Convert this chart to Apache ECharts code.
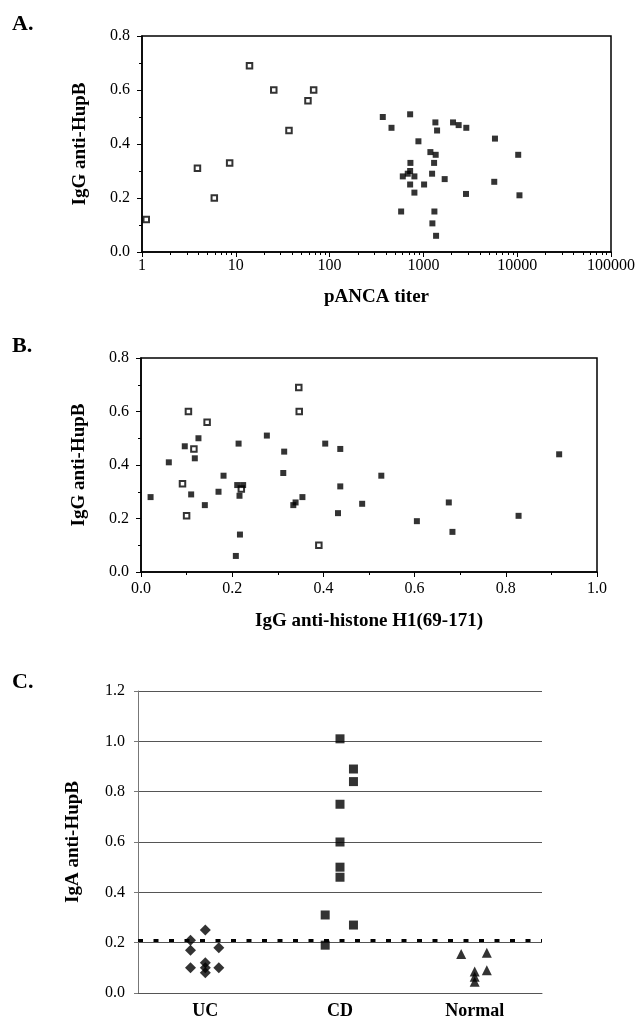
<!DOCTYPE html>
<html><head><meta charset="utf-8">
<script src="https://cdn.jsdelivr.net/npm/echarts@6/dist/echarts.min.js"></script>
<style>html,body{margin:0;padding:0;background:#fff}#c{width:638px;height:1020px}</style>
</head><body><div id="c"></div>
<script>
// ---- Panel A: IgG anti-HupB vs pANCA titer ----
const aUcTiter = [1.11, 3.9, 5.9, 8.6, 14.0, 25.4, 36.9, 58.8, 67.6];
const aUcHupB  = [0.12, 0.31, 0.20, 0.33, 0.69, 0.60, 0.45, 0.56, 0.60];
const aCdTiter = [369, 457, 722, 1342, 1399, 2070, 2376, 2867, 5794, 10250, 885, 1187, 1352, 727, 1300, 722, 681, 603, 802, 1238, 1686, 5693, 722, 1017, 802, 2844, 10570, 579, 1310, 1247, 1365];
const aCdHupB  = [0.50, 0.46, 0.51, 0.48, 0.45, 0.48, 0.47, 0.46, 0.42, 0.36, 0.41, 0.37, 0.36, 0.33, 0.33, 0.30, 0.29, 0.28, 0.28, 0.29, 0.27, 0.26, 0.25, 0.25, 0.22, 0.215, 0.21, 0.15, 0.15, 0.106, 0.06];

// ---- Panel B: IgG anti-HupB vs IgG anti-histone H1(69-171) ----
const bUcH1   = [0.346, 0.347, 0.104, 0.145, 0.116, 0.091, 0.220, 0.100, 0.390];
const bUcHupB = [0.69, 0.60, 0.60, 0.56, 0.46, 0.33, 0.31, 0.21, 0.10];
const bCdH1   = [0.126, 0.276, 0.096, 0.214, 0.314, 0.404, 0.437, 0.118, 0.061, 0.181, 0.312, 0.211, 0.224, 0.437, 0.110, 0.170, 0.216, 0.021, 0.354, 0.339, 0.334, 0.140, 0.485, 0.432, 0.217, 0.208, 0.917, 0.527, 0.675, 0.605, 0.683, 0.828];
const bCdHupB = [0.50, 0.51, 0.47, 0.48, 0.45, 0.48, 0.46, 0.425, 0.41, 0.36, 0.37, 0.325, 0.325, 0.32, 0.29, 0.30, 0.285, 0.28, 0.28, 0.26, 0.25, 0.25, 0.255, 0.22, 0.14, 0.06, 0.44, 0.36, 0.26, 0.19, 0.15, 0.21];

// ---- Panel C: IgA anti-HupB by group ----
const cCategories = ['UC', 'CD', 'Normal'];
const cUcPos  = [0.89, 0.89, 0.89, 1.0, 1.0, 1.0, 1.0, 1.1, 1.1];
const cUcIgA  = [0.21, 0.17, 0.10, 0.25, 0.12, 0.10, 0.08, 0.18, 0.10];
const cCdPos  = [2.0, 2.1, 2.1, 2.0, 2.0, 2.0, 2.0, 1.89, 2.1, 1.89];
const cCdIgA  = [1.01, 0.89, 0.84, 0.75, 0.60, 0.50, 0.46, 0.31, 0.27, 0.19];
const cNorPos = [2.9, 3.09, 3.09, 3.0, 3.0, 3.0];
const cNorIgA = [0.155, 0.16, 0.09, 0.085, 0.065, 0.045];
const cCutoff = 0.215;

const SERIF = "'Liberation Serif','DejaVu Serif',serif";
const zip = (xs, ys) => xs.map((x, i) => [x, ys[i]]);
const lbl = {fontFamily: SERIF, fontSize: 16, color: '#000'};
const ttl = {fontFamily: SERIF, fontSize: 19, fontWeight: 'bold', color: '#000'};
const blackLine = {lineStyle: {color: '#000', width: 1.5}};
const openSq = {color: '#fff', borderColor: '#000', borderWidth: 2};

const chart = echarts.init(document.getElementById('c'));
chart.setOption({
  animation: false,
  backgroundColor: '#fff',
  title: [
    {text: 'A.', left: 12, top: 13, padding: 0, textStyle: {fontFamily: SERIF, fontSize: 22, fontWeight: 'bold', color: '#000'}},
    {text: 'B.', left: 12, top: 335, padding: 0, textStyle: {fontFamily: SERIF, fontSize: 22, fontWeight: 'bold', color: '#000'}},
    {text: 'C.', left: 12, top: 671, padding: 0, textStyle: {fontFamily: SERIF, fontSize: 22, fontWeight: 'bold', color: '#000'}}
  ],
  grid: [
    {left: 142, top: 36, width: 470, height: 216, show: true, borderColor: '#000', borderWidth: 1.5, backgroundColor: 'transparent'},
    {left: 141, top: 358, width: 456, height: 214, show: true, borderColor: '#000', borderWidth: 1.5, backgroundColor: 'transparent'},
    {left: 138, top: 691, width: 404, height: 302}
  ],
  xAxis: [
    {gridIndex: 0, type: 'log', logBase: 10, min: 1, max: 100000,
     axisLine: blackLine, axisTick: {show: true, length: 5, lineStyle: {color: '#000'}},
     minorTick: {show: true, splitNumber: 9, length: 3, lineStyle: {color: '#000'}},
     axisLabel: {...lbl, margin: 6, formatter: v => String(Math.round(v))},
     splitLine: {show: false},
     name: 'pANCA titer', nameLocation: 'middle', nameGap: 36, nameTextStyle: ttl},
    {gridIndex: 1, type: 'value', min: 0, max: 1, interval: 0.2,
     axisLine: blackLine, axisTick: {show: true, length: 5, lineStyle: {color: '#000'}},
     minorTick: {show: true, splitNumber: 2, length: 3, lineStyle: {color: '#000'}},
     axisLabel: {...lbl, margin: 9, formatter: v => v.toFixed(1)},
     splitLine: {show: false},
     name: 'IgG anti-histone H1(69-171)', nameLocation: 'middle', nameGap: 40, nameTextStyle: ttl},
    {gridIndex: 2, type: 'category', data: cCategories,
     axisLine: {lineStyle: {color: '#555', width: 1}}, axisTick: {show: false},
     axisLabel: {fontFamily: SERIF, fontSize: 18, fontWeight: 'bold', color: '#000', margin: 9}},
    {gridIndex: 2, type: 'value', min: 0.5, max: 3.5, show: false}
  ],
  yAxis: [
    {gridIndex: 0, type: 'value', min: 0, max: 0.8, interval: 0.2,
     axisLine: {show: true, ...blackLine}, axisTick: {show: true, length: 5, lineStyle: {color: '#000'}},
     minorTick: {show: true, splitNumber: 2, length: 3, lineStyle: {color: '#000'}},
     axisLabel: {...lbl, margin: 12, formatter: v => v.toFixed(1)},
     splitLine: {show: false},
     name: 'IgG anti-HupB', nameLocation: 'middle', nameRotate: 90, nameGap: 52, nameTextStyle: ttl},
    {gridIndex: 1, type: 'value', min: 0, max: 0.8, interval: 0.2,
     axisLine: {show: true, ...blackLine}, axisTick: {show: true, length: 5, lineStyle: {color: '#000'}},
     minorTick: {show: true, splitNumber: 2, length: 3, lineStyle: {color: '#000'}},
     axisLabel: {...lbl, margin: 12, formatter: v => v.toFixed(1)},
     splitLine: {show: false},
     name: 'IgG anti-HupB', nameLocation: 'middle', nameRotate: 90, nameGap: 52, nameTextStyle: ttl},
    {gridIndex: 2, type: 'value', min: 0, max: 1.2, interval: 0.2,
     axisLine: {show: true, lineStyle: {color: '#777', width: 1}}, axisTick: {show: true, length: 4, lineStyle: {color: '#777'}},
     axisLabel: {...lbl, margin: 13, formatter: v => v.toFixed(1)},
     splitLine: {show: true, lineStyle: {color: '#555', width: 1}},
     name: 'IgA anti-HupB', nameLocation: 'middle', nameRotate: 90, nameGap: 55, nameTextStyle: ttl}
  ],
  series: [
    {type: 'scatter', xAxisIndex: 0, yAxisIndex: 0, data: zip(aUcTiter, aUcHupB), symbol: 'rect', symbolSize: 5.5, itemStyle: openSq},
    {type: 'scatter', xAxisIndex: 0, yAxisIndex: 0, data: zip(aCdTiter, aCdHupB), symbol: 'rect', symbolSize: 6, itemStyle: {color: '#000'}},
    {type: 'scatter', xAxisIndex: 1, yAxisIndex: 1, data: zip(bUcH1, bUcHupB), symbol: 'rect', symbolSize: 5.5, itemStyle: openSq},
    {type: 'scatter', xAxisIndex: 1, yAxisIndex: 1, data: zip(bCdH1, bCdHupB), symbol: 'rect', symbolSize: 6, itemStyle: {color: '#000'}},
    {type: 'scatter', xAxisIndex: 3, yAxisIndex: 2, data: zip(cUcPos, cUcIgA), symbol: 'diamond', symbolSize: 11,
     itemStyle: {color: '#000'},
     markLine: {silent: true, symbol: 'none', label: {show: false},
       lineStyle: {type: [5, 10.5], width: 3, color: '#000'}, data: [{yAxis: cCutoff}]}},
    {type: 'scatter', xAxisIndex: 3, yAxisIndex: 2, data: zip(cCdPos, cCdIgA), symbol: 'rect', symbolSize: 9, itemStyle: {color: '#000'}},
    {type: 'scatter', xAxisIndex: 3, yAxisIndex: 2, data: zip(cNorPos, cNorIgA), symbol: 'triangle', symbolSize: 10, itemStyle: {color: '#000'}}
  ]
});
</script></body></html>
